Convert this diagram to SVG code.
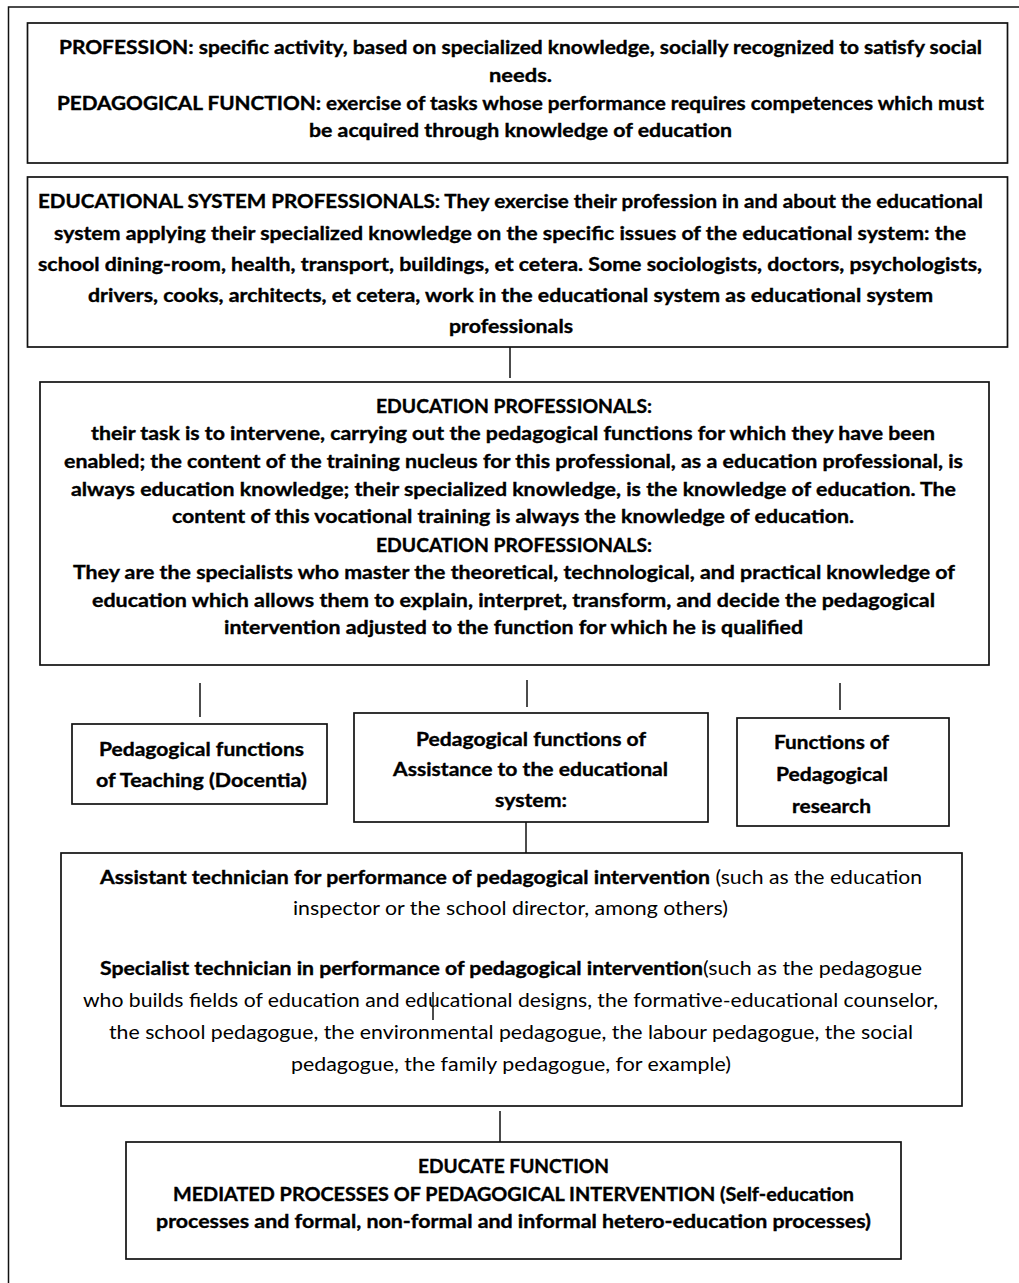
<svg xmlns="http://www.w3.org/2000/svg" width="1019" height="1283" viewBox="0 0 1019 1283">
<style>
.box{fill:#fff;stroke:#111;stroke-width:1.7}
.ln{stroke:#111;stroke-width:1.5;fill:none}
text{font-family:Lato,"Open Sans","Liberation Sans",sans-serif;font-size:18.5px;fill:#000}
.b{font-weight:bold;stroke:#000;stroke-width:0.35}
.r{font-weight:normal;stroke:none}
</style>
<rect width="1019" height="1283" fill="#fff"/>
<polyline class="ln" points="1019,7 8.5,7 8.5,1283"/>
<g id="profession">
<rect class="box" x="27.5" y="23" width="980" height="140"/>
<text class="b" x="59" y="54" textLength="923" lengthAdjust="spacingAndGlyphs">PROFESSION: specific activity, based on specialized knowledge, socially recognized to satisfy social</text>
<text class="b" x="489" y="82" textLength="63" lengthAdjust="spacingAndGlyphs">needs.</text>
<text class="b" x="57" y="110" textLength="927" lengthAdjust="spacingAndGlyphs">PEDAGOGICAL FUNCTION: exercise of tasks whose performance requires competences which must</text>
<text class="b" x="309" y="137" textLength="423" lengthAdjust="spacingAndGlyphs">be acquired through knowledge of education</text>
</g>
<g id="system-professionals">
<rect class="box" x="27.5" y="177" width="980" height="170"/>
<text class="b" x="38" y="208" textLength="945" lengthAdjust="spacingAndGlyphs">EDUCATIONAL SYSTEM PROFESSIONALS: They exercise their profession in and about the educational</text>
<text class="b" x="54" y="240" textLength="912" lengthAdjust="spacingAndGlyphs">system applying their specialized knowledge on the specific issues of the educational system: the</text>
<text class="b" x="38" y="271" textLength="944" lengthAdjust="spacingAndGlyphs">school dining-room, health, transport, buildings, et cetera. Some sociologists, doctors, psychologists,</text>
<text class="b" x="88" y="302" textLength="845" lengthAdjust="spacingAndGlyphs">drivers, cooks, architects, et cetera, work in the educational system as educational system</text>
<text class="b" x="449" y="333" textLength="124" lengthAdjust="spacingAndGlyphs">professionals</text>
</g>
<g id="education-professionals">
<rect class="box" x="40" y="382" width="949" height="283"/>
<text class="b" x="376" y="413" textLength="276" lengthAdjust="spacingAndGlyphs">EDUCATION PROFESSIONALS:</text>
<text class="b" x="91" y="440" textLength="844" lengthAdjust="spacingAndGlyphs">their task is to intervene, carrying out the pedagogical functions for which they have been</text>
<text class="b" x="64" y="468" textLength="899" lengthAdjust="spacingAndGlyphs">enabled; the content of the training nucleus for this professional, as a education professional, is</text>
<text class="b" x="71" y="496" textLength="885" lengthAdjust="spacingAndGlyphs">always education knowledge; their specialized knowledge, is the knowledge of education. The</text>
<text class="b" x="172" y="523" textLength="682" lengthAdjust="spacingAndGlyphs">content of this vocational training is always the knowledge of education.</text>
<text class="b" x="376" y="552" textLength="276" lengthAdjust="spacingAndGlyphs">EDUCATION PROFESSIONALS:</text>
<text class="b" x="73" y="579" textLength="882" lengthAdjust="spacingAndGlyphs">They are the specialists who master the theoretical, technological, and practical knowledge of</text>
<text class="b" x="92" y="607" textLength="843" lengthAdjust="spacingAndGlyphs">education which allows them to explain, interpret, transform, and decide the pedagogical</text>
<text class="b" x="224" y="634" textLength="579" lengthAdjust="spacingAndGlyphs">intervention adjusted to the function for which he is qualified</text>
</g>
<g id="teaching">
<rect class="box" x="72" y="724" width="255" height="80"/>
<text class="b" x="99" y="756" textLength="205" lengthAdjust="spacingAndGlyphs">Pedagogical functions</text>
<text class="b" x="96" y="787" textLength="211" lengthAdjust="spacingAndGlyphs">of Teaching (Docentia)</text>
</g>
<g id="assistance">
<rect class="box" x="354" y="713" width="354" height="109"/>
<text class="b" x="416" y="746" textLength="230" lengthAdjust="spacingAndGlyphs">Pedagogical functions of</text>
<text class="b" x="393" y="776" textLength="275" lengthAdjust="spacingAndGlyphs">Assistance to the educational</text>
<text class="b" x="495" y="807" textLength="72" lengthAdjust="spacingAndGlyphs">system:</text>
</g>
<g id="research">
<rect class="box" x="737" y="718" width="212" height="108"/>
<text class="b" x="774" y="749" textLength="115" lengthAdjust="spacingAndGlyphs">Functions of</text>
<text class="b" x="776" y="781" textLength="112" lengthAdjust="spacingAndGlyphs">Pedagogical</text>
<text class="b" x="792" y="813" textLength="79" lengthAdjust="spacingAndGlyphs">research</text>
</g>
<g id="technicians">
<rect class="box" x="61" y="853" width="901" height="253"/>
<text y="884"><tspan class="b" x="100" textLength="610" lengthAdjust="spacingAndGlyphs">Assistant technician for performance of pedagogical intervention</tspan><tspan class="r" x="710" textLength="212" lengthAdjust="spacingAndGlyphs"> (such as the education</tspan></text>
<text class="r" x="293" y="915" textLength="435" lengthAdjust="spacingAndGlyphs">inspector or the school director, among others)</text>
<text y="975"><tspan class="b" x="100" textLength="603" lengthAdjust="spacingAndGlyphs">Specialist technician in performance of pedagogical intervention</tspan><tspan class="r" x="703" textLength="219" lengthAdjust="spacingAndGlyphs">(such as the pedagogue</tspan></text>
<text class="r" x="83" y="1007" textLength="855" lengthAdjust="spacingAndGlyphs">who builds fields of education and educational designs, the formative-educational counselor,</text>
<text class="r" x="109" y="1039" textLength="804" lengthAdjust="spacingAndGlyphs">the school pedagogue, the environmental pedagogue, the labour pedagogue, the social</text>
<text class="r" x="291" y="1071" textLength="440" lengthAdjust="spacingAndGlyphs">pedagogue, the family pedagogue, for example)</text>
</g>
<g id="educate-function">
<rect class="box" x="126" y="1142" width="775" height="117"/>
<text class="b" x="418" y="1173" textLength="191" lengthAdjust="spacingAndGlyphs">EDUCATE FUNCTION</text>
<text class="b" x="173" y="1201" textLength="681" lengthAdjust="spacingAndGlyphs">MEDIATED PROCESSES OF PEDAGOGICAL INTERVENTION (Self-education</text>
<text class="b" x="156" y="1228" textLength="715" lengthAdjust="spacingAndGlyphs">processes and formal, non-formal and informal hetero-education processes)</text>
</g>
<g id="connectors">
<line class="ln" x1="510" y1="347" x2="510" y2="378"/>
<line class="ln" x1="200" y1="683" x2="200" y2="717"/>
<line class="ln" x1="527" y1="680" x2="527" y2="707"/>
<line class="ln" x1="840" y1="683" x2="840" y2="710"/>
<line class="ln" x1="526" y1="822" x2="526" y2="853"/>
<line class="ln" x1="433" y1="992" x2="433" y2="1020"/>
<line class="ln" x1="500" y1="1111" x2="500" y2="1142"/>
</g>
</svg>
